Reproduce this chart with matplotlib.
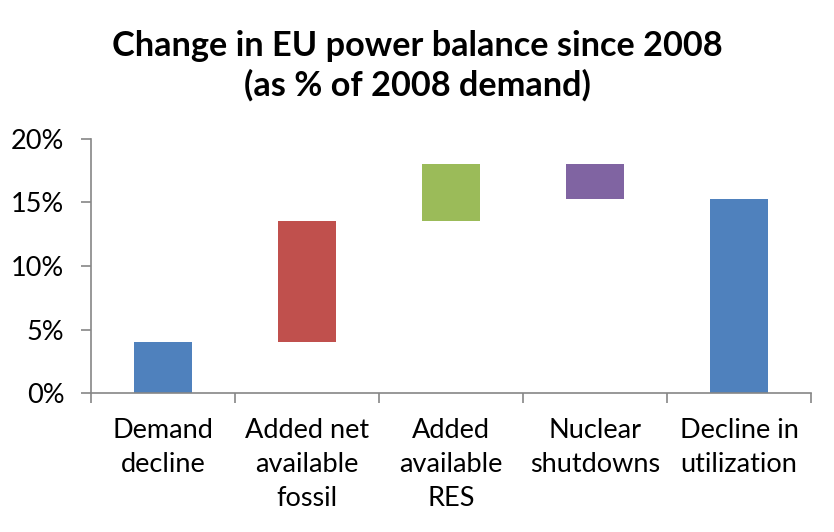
import matplotlib
matplotlib.use('Agg')
import matplotlib.pyplot as plt
from matplotlib.ticker import FuncFormatter

plt.rcParams['font.family'] = ['Lato', 'DejaVu Sans']

# waterfall steps, in % of 2008 demand
categories = ['Demand\ndecline', 'Added net\navailable\nfossil', 'Added\navailable\nRES',
              'Nuclear\nshutdowns', 'Decline in\nutilization']
changes = [4.0, 9.5, 4.5, -2.7, 15.3]
is_total = [False, False, False, False, True]
colors = ['#4F81BD', '#C0504D', '#9BBB59', '#8064A2', '#4F81BD']

# floating bars: bottom and height from running total
bottoms = []
heights = []
running = 0.0
for ch, tot in zip(changes, is_total):
    if tot:
        bottoms.append(0.0)
        heights.append(ch)
        continue
    if ch >= 0:
        bottoms.append(running)
        heights.append(ch)
    else:
        bottoms.append(running + ch)
        heights.append(-ch)
    running += ch

fig = plt.figure(figsize=(8.34, 5.32), dpi=100)
ax = fig.add_axes([0.1088, 0.261, 0.8636, 0.478])

x = list(range(len(categories)))
ax.bar(x, heights, bottom=bottoms, width=0.4, color=colors)

ax.set_xlim(-0.5, len(categories) - 0.5)
ax.set_ylim(0, 20)
ax.set_yticks([0, 5, 10, 15, 20])
ax.yaxis.set_major_formatter(FuncFormatter(lambda v, p: '%d%%' % v))
ax.set_xticks([i - 0.5 for i in range(len(categories) + 1)])
ax.set_xticklabels([])
ax.set_xticks(x, minor=True)
ax.set_xticklabels(categories, minor=True, fontsize=19.5, linespacing=1.45, va='top')
ax.tick_params(axis='x', which='minor', length=0, pad=18)
ax.tick_params(axis='x', which='major', length=7, width=1.2, color='#868686', direction='out')
ax.tick_params(axis='y', length=7, width=1.2, color='#868686', labelsize=19.5, pad=12)

for s in ['top', 'right']:
    ax.spines[s].set_visible(False)
for s in ['left', 'bottom']:
    ax.spines[s].set_color('#868686')
    ax.spines[s].set_linewidth(1.2)

fig.text(0.5, 0.876, 'Change in EU power balance since 2008\n(as % of 2008 demand)',
         ha='center', va='center', fontsize=24.7, fontweight='bold', linespacing=1.25)

fig.savefig('out.png', dpi=100)
